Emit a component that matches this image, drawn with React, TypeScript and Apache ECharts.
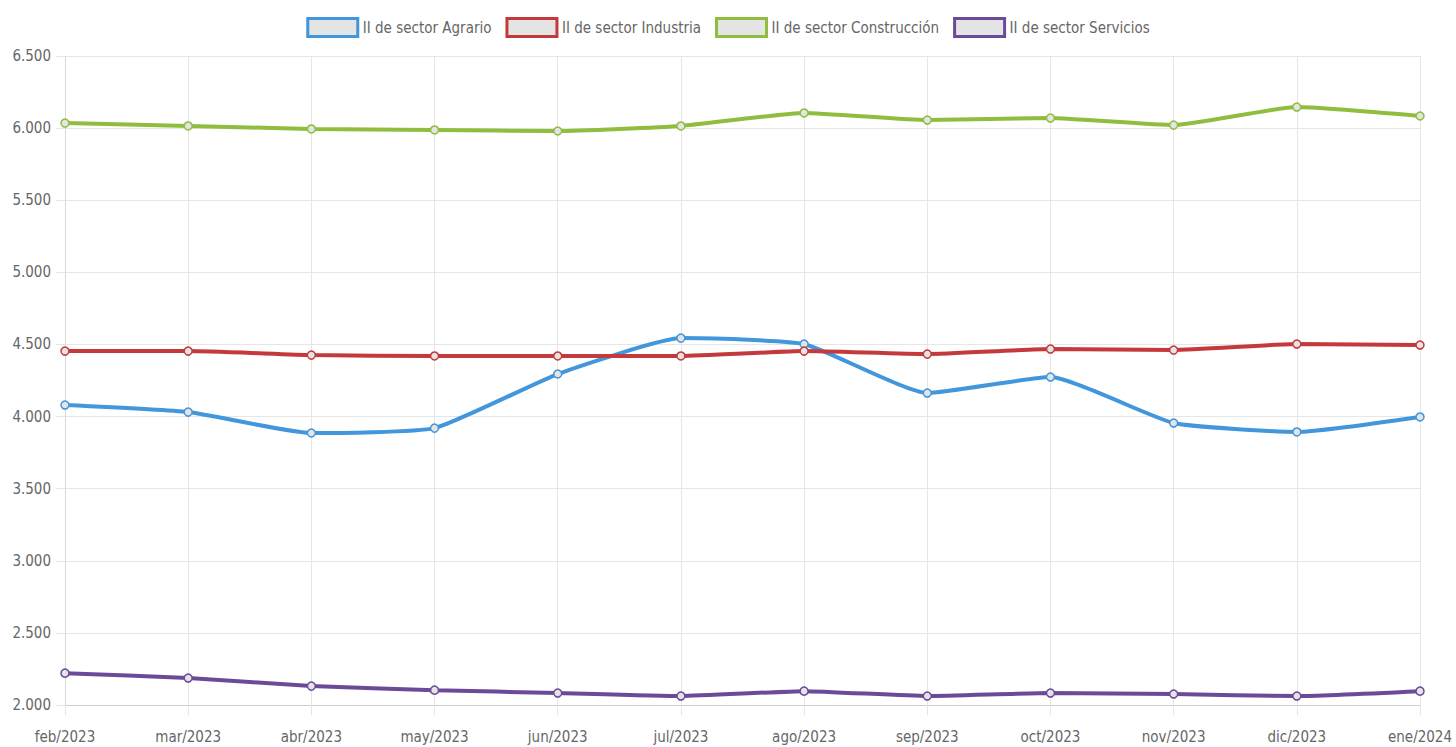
import React, { useEffect, useRef } from "react";
import * as echarts from "echarts";

const categories = ["feb/2023", "mar/2023", "abr/2023", "may/2023", "jun/2023", "jul/2023", "ago/2023", "sep/2023", "oct/2023", "nov/2023", "dic/2023", "ene/2024"];
const agrario = [4080, 4031, 3886, 3920, 4295, 4544, 4503, 4163, 4274, 3955, 3893, 3997];
const industria = [4454, 4454, 4426, 4420, 4420, 4420, 4454, 4433, 4468, 4461, 4503, 4496];
const construccion = [6035, 6015, 5994, 5987, 5980, 6015, 6105, 6056, 6070, 6021, 6146, 6084];
const servicios = [2221, 2187, 2131, 2103, 2083, 2062, 2096, 2062, 2083, 2076, 2062, 2096];
const seriesNames = ["II de sector Agrario", "II de sector Industria", "II de sector Construcción", "II de sector Servicios"];
const colors = ["#4196dc", "#c4393b", "#8fbe3e", "#6b4a99"];

const FONT = "'Liberation Sans Narrow', 'DejaVu Sans Condensed', 'Liberation Sans', sans-serif";

export default function App() {
  const ref = useRef<HTMLDivElement>(null);
  useEffect(() => {
    if (!ref.current) return;
    const chart = echarts.init(ref.current, undefined, { renderer: "svg" });
    const datas = [agrario, industria, construccion, servicios];
    chart.setOption({
      animation: false,
      textStyle: { fontFamily: FONT },
      legend: {
        top: 12,
        left: "center",
        itemWidth: 50,
        itemHeight: 18,
        itemGap: 14,
        icon: "rect",
        textStyle: { fontFamily: FONT, fontSize: 15, color: "#666" },
        data: seriesNames.map((n, i) => ({
          name: n,
          itemStyle: { color: "#e4e4e4", borderColor: colors[i], borderWidth: 3 },
        })),
      },
      grid: { left: 65, right: 36, top: 56, bottom: 42, containLabel: false },
      xAxis: {
        type: "category",
        data: categories,
        boundaryGap: false,
        axisLine: { lineStyle: { color: "#cfcfcf", width: 1 } },
        axisTick: { show: true, length: 10, lineStyle: { color: "#e6e6e6" }, alignWithLabel: true },
        splitLine: { show: true, lineStyle: { color: "#e6e6e6" } },
        axisLabel: { fontFamily: FONT, fontSize: 15, color: "#666", margin: 24, interval: 0 },
      },
      yAxis: {
        type: "value",
        min: 2000,
        max: 6500,
        interval: 500,
        axisLine: { show: true, lineStyle: { color: "#d8d8d8" } },
        axisTick: { show: true, length: 9, lineStyle: { color: "#e6e6e6" } },
        splitLine: { show: true, lineStyle: { color: "#e6e6e6" } },
        axisLabel: {
          fontFamily: FONT,
          fontSize: 15,
          color: "#666",
          margin: 14,
          formatter: (v: number) => {
            const s = String(Math.round(v));
            return s.length > 3 ? s.slice(0, s.length - 3) + "." + s.slice(s.length - 3) : s;
          },
        },
      },
      series: datas.map((d, i) => ({
        name: seriesNames[i],
        type: "line",
        data: d,
        smooth: 0.15,
        symbol: "circle",
        symbolSize: 8,
        showSymbol: true,
        lineStyle: { color: colors[i], width: 4 },
        itemStyle: { color: "#e4e4e4", borderColor: colors[i], borderWidth: 1.5 },
        emphasis: { disabled: true },
      })),
    });
    return () => chart.dispose();
  }, []);
  return <div ref={ref} style={{ width: 1456, height: 747, position: "absolute", left: 0, top: 0 }} />;
}
